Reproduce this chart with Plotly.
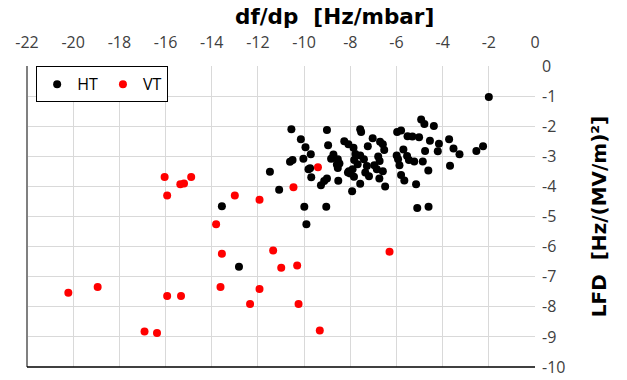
import plotly.graph_objects as go

# HT series (df/dp [Hz/mbar], LFD [Hz/(MV/m)^2])
ht_x = [-2.0, -4.93, -4.79, -4.38, -10.55, -9.01, -7.57, -7.53, -5.97, -5.8,
        -5.52, -5.31, -5.02, -3.72, -10.14, -7.03, -4.55, -8.26, -8.08, -8.96,
        -6.71, -6.59, -4.16, -9.94, -7.86, -7.24, -6.53, -5.7, -3.53, -2.25,
        -2.54, -4.76, -4.21, -3.27, -9.71, -10.03, -10.5, -10.61, -11.48, -8.73,
        -8.83, -8.54, -8.47, -8.54, -7.78, -7.57, -7.83, -7.68, -7.9, -8.0,
        -7.84, -8.06, -7.41, -7.28, -7.35, -7.19, -6.96, -6.85, -6.79, -6.73,
        -6.74, -6.59, -6.49, -5.99, -5.93, -5.87, -5.8, -5.66, -5.54, -5.46,
        -5.23, -4.86, -4.62, -3.68, -5.15, -9.74, -9.69, -9.27, -9.13, -9.01,
        -8.52, -8.1, -7.92, -7.57, -11.08, -9.99, -9.04, -5.1, -4.61, -9.9,
        -13.56, -12.82, -9.81, -8.58]
ht_y = [-1.03, -1.78, -1.93, -1.99, -2.1, -2.13, -2.1, -2.19, -2.19, -2.14,
        -2.33, -2.34, -2.37, -2.43, -2.43, -2.4, -2.48, -2.5, -2.6, -2.63,
        -2.52, -2.6, -2.58, -2.7, -2.72, -2.67, -2.79, -2.77, -2.74, -2.67,
        -2.82, -2.82, -2.83, -2.93, -2.93, -3.08, -3.12, -3.18, -3.51, -2.94,
        -3.08, -3.1, -3.24, -3.39, -2.92, -2.97, -3.12, -3.26, -3.43, -3.57,
        -3.68, -3.5, -3.1, -3.32, -3.54, -3.66, -3.3, -3.43, -3.01, -3.16,
        -3.74, -3.5, -4.0, -2.97, -3.1, -3.3, -3.62, -3.8, -2.99, -3.12,
        -3.17, -3.17, -3.47, -3.31, -3.93, -3.4, -3.7, -3.96, -3.82, -3.74,
        -3.81, -3.54, -4.16, -3.91, -4.11, -4.68, -4.68, -4.72, -4.68, -5.26,
        -4.66, -6.67, -3.43, -3.27]

# VT series
vt_x = [-16.04, -15.36, -15.2, -14.89, -15.93, -13.0, -11.93, -10.46, -9.4,
        -13.81, -13.56, -11.34, -6.3, -10.99, -10.3, -20.21, -18.94, -15.93,
        -15.33, -13.62, -11.93, -12.34, -10.24, -16.91, -16.37, -9.32]
vt_y = [-3.69, -3.93, -3.9, -3.69, -4.3, -4.3, -4.44, -4.03, -3.36,
        -5.26, -6.24, -6.13, -6.17, -6.7, -6.63, -7.53, -7.34, -7.64,
        -7.64, -7.34, -7.41, -7.91, -7.91, -8.82, -8.87, -8.79]

x_ticks = [-22, -20, -18, -16, -14, -12, -10, -8, -6, -4, -2, 0]
y_ticks = [0, -1, -2, -3, -4, -5, -6, -7, -8, -9, -10]

font_family = "Open Sans"
title_family = "DejaVu Sans"
tick_color = "#404040"
grid_color = "#D9D9D9"

fig = go.Figure()
fig.add_trace(go.Scatter(x=ht_x, y=ht_y, mode="markers", name="HT",
                         marker=dict(color="#000000", size=8)))
fig.add_trace(go.Scatter(x=vt_x, y=vt_y, mode="markers", name="VT",
                         marker=dict(color="#FF0000", size=8)))

fig.update_layout(
    width=627, height=380,
    margin=dict(l=27, r=92, t=66, b=13),
    paper_bgcolor="white", plot_bgcolor="white",
    font=dict(family=font_family, size=16, color=tick_color),
    showlegend=True,
    legend=dict(orientation="h", x=0.018, y=0.999, xanchor="left", yanchor="top",
                bgcolor="white", bordercolor="#000000", borderwidth=1,
                font=dict(size=16, color="#000000"), itemwidth=30,
                tracegroupgap=0),
    xaxis=dict(side="top", range=[-22, 0], tickvals=x_ticks,
               ticktext=[str(v) for v in x_ticks], automargin=False,
               showgrid=True, gridcolor=grid_color, gridwidth=1,
               zeroline=False, showline=False, ticks="", ticklabelstandoff=14,
               tickfont=dict(size=16, color=tick_color)),
    yaxis=dict(side="right", range=[-10, 0], tickvals=y_ticks,
               ticktext=[str(v) for v in y_ticks], automargin=False,
               showgrid=True, gridcolor=grid_color, gridwidth=1,
               zeroline=False, showline=False, ticks="", ticklabelstandoff=6,
               tickfont=dict(size=16, color=tick_color),
               title=dict(text="<b>LFD  [Hz/(MV/m)²]</b>",
                          font=dict(family=title_family, size=20, color="#000000"),
                          standoff=27)),
    annotations=[
        dict(text="<b>df/dp  [Hz/mbar]</b>", xref="paper", yref="paper",
             x=0.606, y=1.163, xanchor="center", yanchor="middle",
             showarrow=False, borderpad=0,
             font=dict(family=title_family, size=21.5, color="#000000")),
    ],
    shapes=[
        dict(type="line", xref="paper", yref="paper", x0=0, x1=0, y0=0, y1=1,
             line=dict(color="#808080", width=2)),
        dict(type="line", xref="paper", yref="paper", x0=0, x1=1, y0=0, y1=0,
             line=dict(color="#000000", width=1.5)),
    ],
)

fig.write_html("out.html", config={"displayModeBar": False},
               post_script="document.body.style.margin='0';")
